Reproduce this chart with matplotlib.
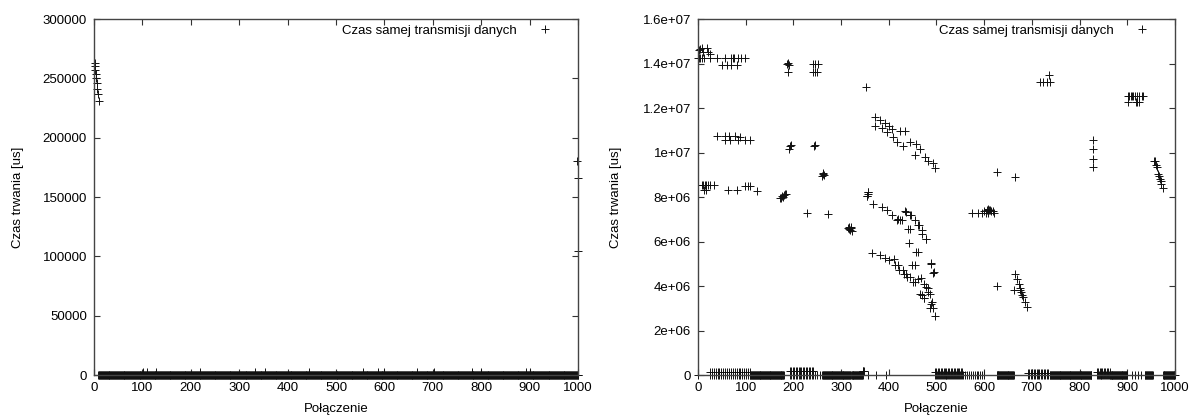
import numpy as np
import matplotlib.pyplot as plt
from matplotlib.ticker import FuncFormatter, MultipleLocator

plt.rcParams['font.family'] = ['Liberation Sans', 'DejaVu Sans']

# ---- lewy wykres (czas w us) ----
left_peak_x = [2, 3, 3, 4, 5, 6, 6, 8, 10]
left_peak_y = [263000, 260000, 257000, 254000, 250000, 246500, 241000, 237000, 231000]
left_end_x = [998, 999, 999]
left_end_y = [180600, 166300, 104500]
left_base_from = 9
left_base_to = 1000
left_base_level = 400
left_bump_x = [101, 109, 129, 220, 333, 354, 445, 556, 587, 599, 668, 702, 781, 799, 892, 900]
left_bump_level = 2500

# ---- prawy wykres (czas w 1e6 us) ----
right_x = [
    # lewy gorny rog
    2, 5, 8, 11, 18, 22, 25,
    1, 3, 5, 8, 13, 25, 39, 57, 70, 73, 76, 84, 91, 98,
    50, 60, 70, 81,
    186, 188, 190, 189,
    242, 246, 252, 242, 245, 249,
    352,
    39, 57, 64, 78, 88,
    57, 67, 84, 98, 109,
    192, 194, 191, 243, 245,
    261, 262, 263, 264,
    8, 11, 14, 17, 20, 26, 34, 13, 17,
    63, 81, 99, 104, 109, 124,
    172, 175, 177, 178, 180, 182, 185,
    229, 272,
    314, 316, 317, 318, 320, 321, 322,
    354, 357, 356,
    # gorna krzywa
    371, 382, 392, 400, 371, 385, 396, 406, 423, 434, 409, 417, 430, 444, 458,
    465, 455, 476, 482, 493, 497,
    # srodkowa krzywa
    357, 354, 367, 385, 396, 406, 417, 423, 434, 444, 455, 462, 469, 479, 441,
    442, 462, 454, 488, 493, 420, 427, 437, 447, 463, 469, 479, 444,
    # dolna krzywa
    364, 382, 392, 401, 413, 422, 431, 438, 454, 462, 473, 483, 486, 465, 473,
    490, 486, 493, 497, 410, 420, 430, 437, 444, 451, 468, 479, 482, 474, 469,
    489, 458, 449, 488, 494,
    # prawa czesc
    574, 588, 595, 600, 603, 605, 607, 608, 610, 612, 615, 618, 620,
    626, 626, 665,
    662, 665, 668, 672, 675, 676, 678, 680, 682, 685, 689,
    717, 724, 731, 737, 735,
    829, 829, 829, 829,
    901, 904, 907, 910, 913, 916, 920, 925, 930, 934, 901, 918, 921, 924,
    957, 958, 960, 962, 965, 966, 969, 970, 971, 974,
]
right_y = [
    14.6, 14.65, 14.68, 14.5, 14.68, 14.5, 14.42,
    14.25, 14.25, 14.25, 14.25, 14.25, 14.25, 14.25, 14.25, 14.25, 14.25, 14.25, 14.25, 14.25, 14.25,
    13.93, 13.93, 13.93, 13.93,
    13.98, 14.02, 13.95, 13.6,
    13.98, 14.0, 13.98, 13.6, 13.6, 13.6,
    12.96,
    10.73, 10.73, 10.73, 10.73, 10.7,
    10.54, 10.54, 10.54, 10.54, 10.54,
    10.31, 10.35, 10.17, 10.3, 10.32,
    8.95, 9.05, 9.1, 9.0,
    8.55, 8.55, 8.55, 8.55, 8.55, 8.55, 8.55, 8.3, 8.3,
    8.3, 8.3, 8.5, 8.5, 8.5, 8.25,
    7.95, 7.95, 8.05, 8.0, 8.1, 8.15, 8.15,
    7.27, 7.22,
    6.6, 6.65, 6.55, 6.5, 6.6, 6.65, 6.45,
    8.03, 8.22, 8.15,
    11.61, 11.47, 11.32, 11.21, 11.21, 11.1, 10.9, 11.05, 10.95, 10.95, 10.68, 10.49, 10.28, 10.47, 10.4,
    10.17, 9.87, 9.82, 9.64, 9.52, 9.31,
    8.22, 8.03, 7.7, 7.55, 7.4, 7.17, 6.95, 6.95, 7.35, 7.17, 6.95, 6.73, 6.35, 6.12, 6.55,
    5.93, 5.53, 4.93, 5.0, 4.6, 7.03, 6.95, 7.32, 7.17, 6.73, 6.5, 6.13, 6.58,
    5.48, 5.38, 5.26, 5.16, 4.93, 4.71, 4.53, 4.41, 4.18, 4.33, 4.11, 3.89, 3.66, 3.66, 3.44,
    3.29, 3.03, 2.99, 2.65, 5.2, 4.93, 4.71, 4.56, 4.41, 4.18, 4.35, 3.96, 3.74, 3.44, 3.59,
    3.2, 5.53, 4.93, 5.03, 4.63,
    7.3, 7.3, 7.3, 7.35, 7.27, 7.42, 7.3, 7.45, 7.42, 7.4, 7.38, 7.35, 7.3,
    9.12, 4.0, 8.92,
    3.81, 4.56, 4.33, 4.11, 3.89, 3.8, 3.74, 3.6, 3.51, 3.29, 3.06,
    13.15, 13.15, 13.15, 13.15, 13.48,
    10.54, 10.14, 9.73, 9.33,
    12.56, 12.56, 12.56, 12.56, 12.56, 12.56, 12.56, 12.56, 12.56, 12.56, 12.26, 12.26, 12.26, 12.26,
    9.6, 9.64, 9.45, 9.34, 9.04, 8.95, 8.82, 8.6, 8.7, 8.4,
]

# przebiegi przy zerze: poczatek, koniec, poziom (1e6 us), co ile polaczen
base_from = [0, 25, 25, 110, 193, 193, 245, 262, 322, 346, 356, 373, 394, 497, 497,
             560, 626, 692, 692, 738, 836, 836, 864, 910, 937, 975]
base_to = [0, 110, 110, 180, 242, 242, 262, 320, 345, 348, 356, 373, 394, 556, 556,
           600, 662, 734, 734, 825, 864, 864, 900, 933, 953, 1000]
base_level = [0.02, 0.02, 0.14, 0.02, 0.02, 0.16, 0.02, 0.02, 0.02, 0.2, 0.02, 0.02, 0.02, 0.02, 0.15,
              0.02, 0.02, 0.02, 0.08, 0.02, 0.02, 0.12, 0.02, 0.02, 0.02, 0.02]
base_every = [1, 4, 4, 1, 3, 3, 5, 1, 1, 1, 1, 1, 1, 2, 3,
              4, 1, 3, 3, 1, 2, 3, 1, 6, 1, 1]

label = 'Czas samej transmisji danych'
fs = 9.5
mk = dict(marker='+', linestyle='none', color='#111111', markersize=5.5, mew=0.7, clip_on=False)


def gnuplot_axes(ax, ymax, ystep):
    ax.set_xlim(0, 1000)
    ax.set_ylim(0, ymax)
    ax.xaxis.set_major_locator(MultipleLocator(100))
    ax.yaxis.set_major_locator(MultipleLocator(ystep))
    ax.yaxis.set_major_formatter(FuncFormatter(lambda v, p: '%g' % v))
    ax.tick_params(direction='in', top=True, right=True, length=4, width=0.8,
                   labelsize=fs, color='#333333')
    ax.tick_params(axis='x', pad=5)
    ax.tick_params(axis='y', pad=5)
    for s in ax.spines.values():
        s.set_color('#444444')
        s.set_linewidth(1.0)
    ax.set_xlabel('Połączenie', fontsize=fs)
    ax.set_ylabel('Czas trwania [us]', fontsize=fs)
    ax.legend(loc='upper right', markerfirst=False, frameon=False, fontsize=fs,
              borderaxespad=0.2, borderpad=0.2, handlelength=4.2, handletextpad=0.05,
              numpoints=1)


fig = plt.figure(figsize=(11.96, 4.17), dpi=100)
ax1 = fig.add_axes([0.0786, 0.1007, 0.4047, 0.8537])
ax2 = fig.add_axes([0.5836, 0.1007, 0.3988, 0.8537])

# lewy
lx = list(range(left_base_from, left_base_to + 1))
ly = [left_base_level] * len(lx)
lx += left_bump_x + left_peak_x + left_end_x
ly += [left_bump_level] * len(left_bump_x) + left_peak_y + left_end_y
ax1.plot(lx, ly, label=label, **mk)
gnuplot_axes(ax1, 300000, 50000)
ax1.yaxis.set_label_coords(-0.145, 0.5)
ax1.xaxis.set_label_coords(0.5, -0.08)

# prawy
rx = list(right_x)
ry = list(right_y)
for a, b, lev, k in zip(base_from, base_to, base_level, base_every):
    for c in range(a, b + 1, k):
        rx.append(c)
        ry.append(lev)
ax2.plot(rx, np.array(ry) * 1e6, label=label, **mk)
gnuplot_axes(ax2, 1.6e7, 2e6)
ax2.yaxis.set_label_coords(-0.16, 0.5)
ax2.xaxis.set_label_coords(0.5, -0.08)

fig.savefig('out.png', dpi=100)
